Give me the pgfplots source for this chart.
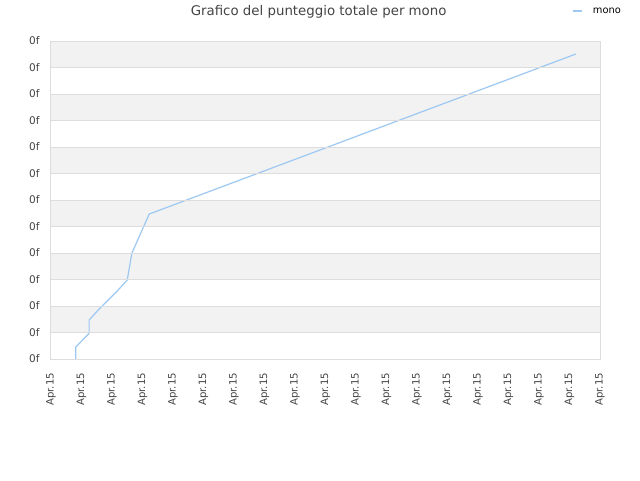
\documentclass[border=0pt]{standalone}
\usepackage{fontspec}
\setmainfont{DejaVu Sans}
\usepackage{pgfplots}
\pgfplotsset{compat=1.18}
\definecolor{linea}{HTML}{9CC8F2}
\definecolor{bordo}{HTML}{DDDDDD}
\definecolor{banda}{HTML}{F2F2F2}
\definecolor{testo}{HTML}{444444}
\begin{document}
\begin{tikzpicture}
% 1 px = 0.75 pt, picture 640 x 480 px
\useasboundingbox (0,0) rectangle (480pt,-360pt);
\begin{axis}[
    axis on top,
    at={(38.25pt,-269.25pt)}, anchor=south west,
    scale only axis,
    width=411.75pt, height=238.5pt,
    xmin=0, xmax=18, ymin=0, ymax=12,
    xtick={0,...,18}, ytick={0,...,12},
    xticklabels={Apr.15,Apr.15,Apr.15,Apr.15,Apr.15,Apr.15,Apr.15,Apr.15,Apr.15,Apr.15,Apr.15,Apr.15,Apr.15,Apr.15,Apr.15,Apr.15,Apr.15,Apr.15,Apr.15},
    yticklabels={0f,0f,0f,0f,0f,0f,0f,0f,0f,0f,0f,0f,0f},
    major tick length=0pt,
    ymajorgrids, grid style={bordo, line width=0.75pt},
    axis line style={bordo, line width=0.75pt},
    tick label style={text=testo},
    x tick label style={font=\fontsize{7.6pt}{8pt}\selectfont, rotate=90, anchor=east, xshift=-7pt},
    y tick label style={font=\fontsize{7.9pt}{8pt}\selectfont, xshift=-5pt},
    /pgf/number format/assume math mode=true,
    clip=false,
]
% fasce grigie alternate
\fill[banda] (axis cs:0,1) rectangle (axis cs:18,2);
\fill[banda] (axis cs:0,3) rectangle (axis cs:18,4);
\fill[banda] (axis cs:0,5) rectangle (axis cs:18,6);
\fill[banda] (axis cs:0,7) rectangle (axis cs:18,8);
\fill[banda] (axis cs:0,9) rectangle (axis cs:18,10);
\fill[banda] (axis cs:0,11) rectangle (axis cs:18,12);
\addplot[color=linea, line width=0.9pt] coordinates {
    (0.81,0) (0.81,0.45) (1.25,0.97) (1.25,1.47) (1.55,1.85)
    (2.15,2.54) (2.50,2.98) (2.65,3.99) (3.22,5.47) (17.21,11.51)
};
\end{axis}
\node[text=testo, font=\fontsize{10pt}{12pt}\selectfont] at (239pt,-9pt) {Grafico del punteggio totale per mono};
\draw[linea, line width=1.2pt] (429.75pt,-8.25pt) -- (436.5pt,-8.25pt);
\node[anchor=west, text=black, font=\fontsize{7.4pt}{8pt}\selectfont, inner sep=0pt] at (444.5pt,-8.25pt) {mono};
\end{tikzpicture}
\end{document}
